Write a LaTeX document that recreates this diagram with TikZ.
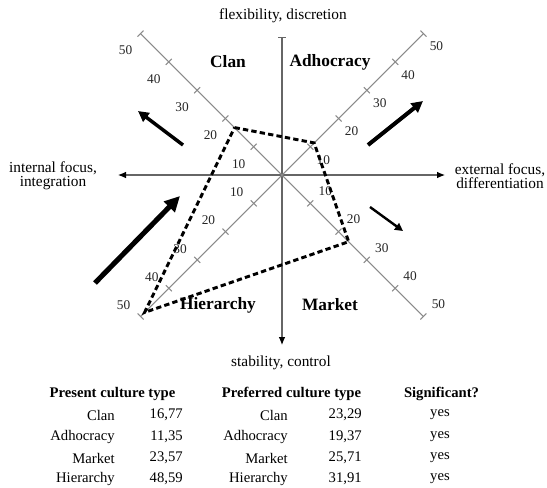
\documentclass[tikz,border=0pt]{standalone}
\usepackage{fontspec}
\setmainfont{Liberation Serif}
\usetikzlibrary{arrows.meta,calc}
\definecolor{axisgray}{HTML}{666666}
\definecolor{diaggray}{HTML}{8A8A8A}
\begin{document}
\begin{tikzpicture}[x=0.75pt,y=-0.75pt,
  axisline/.style={draw=axisgray,line width=0.8pt},
  diagline/.style={draw=diaggray,line width=0.8pt},
  ticklabel/.style={font=\fontsize{10}{11}\selectfont,text=black!85,inner sep=0pt},
  axislabel/.style={font=\fontsize{11.5}{10.8}\selectfont,align=center,inner sep=0pt},
  quadlabel/.style={font=\fontsize{13}{14}\selectfont\bfseries,inner sep=0pt},
  datapoly/.style={draw=black,line width=2.2pt,dash pattern=on 4pt off 2.4pt},
  tabhead/.style={font=\fontsize{11}{12}\selectfont\bfseries,inner sep=0pt},
  tabcell/.style={font=\fontsize{11}{12}\selectfont,inner sep=0pt},
  bigarrow/.style={draw=black}
]
\useasboundingbox (0,0) rectangle (547,487);

% main axes
\coordinate (O) at (282,175);
\coordinate (T) at (282,37);
\coordinate (B) at (282,345);
\coordinate (L) at (118,175);
\coordinate (R) at (445,175);
\draw[axisline,{Bar[width=6pt]}-{Latex[length=6pt,width=5pt,color=black]}] (T) -- (B);
\draw[axisline,{Latex[length=6pt,width=5pt,color=black]}-{Latex[length=6pt,width=5pt,color=black]}] (L) -- (R);

% diagonal axes with ticks and labels
\foreach \n/\dx/\dy/\ox/\oy in {clan/-1/-1/-15/17, adh/1/-1/13/13, mkt/1/1/15/-12, hier/-1/1/-17/-11}{
  \coordinate (\n end) at ($(O)+(\dx*141.42,\dy*141.42)$);
  \draw[diagline] (O) -- (\n end);
  \pgfmathsetmacro\px{\dy*3}
  \pgfmathsetmacro\py{-1*\dx*3}
  \foreach \k in {1,...,5}{
    \pgfmathsetmacro\d{\k*28.284}
    \coordinate (\n t\k) at ($(O)+(\dx*\d,\dy*\d)$);
    \draw[diagline] ($(\n t\k)+(\px,\py)$) -- ($(\n t\k)-(\px,\py)$);
    \node[ticklabel] (\n l\k) at ($(\n t\k)+(\ox,\oy)$) {\k0};
  }
}

% axis labels
\node[axislabel] (top) at (283,16) {flexibility, discretion};
\node[axislabel] (bottom) at (281,363) {stability, control};
\node[axislabel] (left) at (53,176) {internal focus,\\integration};
\node[axislabel] (right) at (500,176) {external focus,\\differentiation};

% quadrant labels
\node[quadlabel] (qclan) at (228,62) {Clan};
\node[quadlabel] (qadh) at (330,62) {Adhocracy};
\node[quadlabel] (qhier) at (218,305) {Hierarchy};
\node[quadlabel] (qmkt) at (330,305) {Market};

% data polygon
\coordinate (pc) at (234.57,127.57);
\coordinate (pa) at (314.10,142.90);
\coordinate (pm) at (348.67,241.67);
\coordinate (ph) at (144.57,312.43);
\draw[datapoly] (pc) -- (pa) -- (pm) -- (ph) -- cycle;

% movement arrows
\coordinate (a1s) at (183,145); \coordinate (a1e) at (138,111);
\coordinate (a2s) at (95,283);  \coordinate (a2e) at (180,196);
\coordinate (a3s) at (368,145); \coordinate (a3e) at (423,101);
\coordinate (a4s) at (370,207); \coordinate (a4e) at (403,231);
\draw[bigarrow,line width=2.6pt,-{Triangle[length=8pt,width=8pt]}] (a1s) -- (a1e);
\draw[bigarrow,line width=3.8pt,-{Triangle[length=11.5pt,width=11pt]}] (a2s) -- (a2e);
\draw[bigarrow,line width=3pt,-{Triangle[length=8.5pt,width=8.5pt]}] (a3s) -- (a3e);
\draw[bigarrow,line width=1.8pt,-{Triangle[length=6pt,width=6pt]}] (a4s) -- (a4e);

% table
\node[tabhead] (h1) at (112.5,394) {Present culture type};
\node[tabhead] (h2) at (291.5,394) {Preferred culture type};
\node[tabhead] (h3) at (441.5,394) {Significant?};
\foreach \i/\y/\nm/\va/\vb in {1/415/Clan/{16,77}/{23,29}, 2/437/Adhocracy/{11,35}/{19,37}, 3/458/Market/{23,57}/{25,71}, 4/479/Hierarchy/{48,59}/{31,91}}{
  \node[tabcell,anchor=east] (n1\i) at (115,\y) {\nm};
  \node[tabcell,anchor=east] (v1\i) at (183,\y) {\va};
  \node[tabcell,anchor=east] (n2\i) at (288,\y) {\nm};
  \node[tabcell,anchor=east] (v2\i) at (362,\y) {\vb};
  \node[tabcell] (s\i) at (440,\y) {yes};
}
\end{tikzpicture}
\end{document}
